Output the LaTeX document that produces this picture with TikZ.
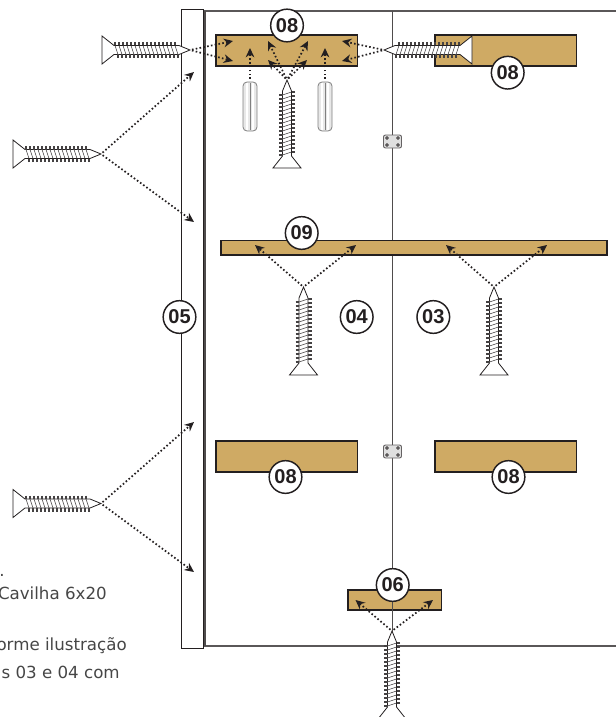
\documentclass[tikz,border=0pt]{standalone}
\usepackage{fontspec}
\setmainfont{Liberation Sans}
\newfontfamily\notefont{DejaVu Sans}
\usetikzlibrary{arrows.meta}
\definecolor{wood}{RGB}{207,170,100}
\definecolor{ink}{RGB}{35,31,32}
\definecolor{notegray}{RGB}{70,70,70}
\tikzset{
  woodbox/.style={draw=ink, line width=0.9pt, fill=wood},
  dotarrow/.style={ink, line width=1.3pt, dash pattern=on 1.2pt off 1.7pt, shorten <=1.5pt, -{Stealth[length=7pt,width=6.5pt]}},
  badge/.style={circle, draw=ink, line width=1.1pt, fill=white, minimum size=24.5pt, inner sep=0pt, font=\bfseries\fontsize{15}{15}\selectfont, text=ink},
  notetext/.style={anchor=east, inner sep=0pt, text=notegray, font=\notefont\fontsize{12.5}{14}\selectfont},
  pics/screwpic/.style={code={
    \draw[ink, line width=0.6pt, fill=white] (0,0) -- (-11,-4.5) -- (-76,-4.5) -- (-88,-14) -- (-88,14) -- (-76,4.5) -- (-11,4.5) -- cycle;
    \foreach \t in {0,...,15} {
      \draw[ink!85, line width=0.45pt] ({-75+4*\t},-4.5) -- ({-72+4*\t},4.5);
      \draw[ink!85, line width=1.05pt] ({-75+4*\t},-8) -- ({-75+4*\t},-4.5);
      \draw[ink!85, line width=1.05pt] ({-72+4*\t},8) -- ({-72+4*\t},4.5);
    }
  }},
  pics/dowelpic/.style={code={
    \draw[gray, line width=0.6pt, fill=gray!18, rounded corners=3pt] (-7,0) rectangle (7,49);
    \foreach \t in {-3,3}
      \draw[white, line width=0.9pt] (\t,1) -- (\t,48);
    \draw[gray, line width=0.5pt] (0,1) -- (0,48);
  }},
  pics/hingepic/.style={code={
    \draw[ink!70, line width=0.7pt, fill=gray!25, rounded corners=1.5pt] (-9,-6.5) rectangle (9,6.5);
    \foreach \a/\b in {-5.5/-3.5,5.5/-3.5,-5.5/3.5,5.5/3.5}
      \draw[ink, line width=0.5pt, fill=white] (\a,\b) circle (1.3);
  }}
}
\begin{document}
\begin{tikzpicture}[x=0.75pt,y=-0.75pt]
\useasboundingbox (0,0) rectangle (616,717);
% back panels
\draw[ink!75, line width=0.9pt] (204,11) -- (616,11);
\draw[ink!75, line width=0.8pt] (204,646) -- (616,646);
% boards
\draw[woodbox] (216,35) rectangle (357.5,66);
\draw[woodbox] (435,35) rectangle (576.5,66);
\draw[woodbox] (216,441) rectangle (357.5,472);
\draw[woodbox] (435,441) rectangle (576.5,472);
\draw[woodbox] (348,590) rectangle (441.5,610);
\draw[ink, line width=1.4pt] (348,590) -- (441.5,590);
% center line
\draw[ink!80, line width=0.9pt] (392.5,11) -- (392.5,646);
\draw[woodbox] (221,240.5) rectangle (607,255);
% side panel
\draw[ink, line width=0.7pt, fill=white] (181,9.5) rectangle (203,648);
\draw[ink!80, line width=1.5pt] (204.5,11) -- (204.5,646);
% hinges
\pic at (392.5,141.5) {hingepic};
\pic at (392.5,451.5) {hingepic};
% dowels
\pic at (250,82) {dowelpic};
\pic at (325,82) {dowelpic};
% screws
\pic at (190,50) {screwpic};
\pic at (101,154) {screwpic};
\pic at (101,503.5) {screwpic};
\pic[rotate=180, yscale=-1] at (384,50) {screwpic};
\pic[rotate=90] at (287,80) {screwpic};
\pic[rotate=90] at (303.5,287) {screwpic};
\pic[rotate=90] at (494,287) {screwpic};
\pic[rotate=90] at (392,631) {screwpic};
% screw tips
\coordinate (tipa) at (190,50);
\coordinate (tipb) at (101,154);
\coordinate (tipc) at (101,503.5);
\coordinate (tipd) at (384,50);
\coordinate (tipe) at (287,80);
\coordinate (tipf) at (303.5,287);
\coordinate (tipg) at (494,287);
\coordinate (tiph) at (392,631);
\coordinate (dowela) at (250,81);
\coordinate (dowelb) at (325,81);
% arrow ends
\coordinate (enda1) at (233,41);
\coordinate (enda2) at (233,61);
\coordinate (endb1) at (194,72);
\coordinate (endb2) at (194,222);
\coordinate (endc1) at (194,422);
\coordinate (endc2) at (194,572);
\coordinate (endd1) at (342,41);
\coordinate (endd2) at (342,61);
\coordinate (ende1) at (268,41);
\coordinate (ende2) at (308,41);
\coordinate (ende3) at (268,60);
\coordinate (ende4) at (307,60);
\coordinate (endf1) at (255,245);
\coordinate (endf2) at (356,245);
\coordinate (endg1) at (446,245);
\coordinate (endg2) at (547,245);
\coordinate (endh1) at (355.5,600);
\coordinate (endh2) at (433,600);
\coordinate (endi1) at (250,48);
\coordinate (endi2) at (325,48);
\foreach \s/\e in {tipa/enda1,tipa/enda2,tipb/endb1,tipb/endb2,tipc/endc1,tipc/endc2,tipd/endd1,tipd/endd2,tipe/ende1,tipe/ende2,tipe/ende3,tipe/ende4,tipf/endf1,tipf/endf2,tipg/endg1,tipg/endg2,tiph/endh1,tiph/endh2,dowela/endi1,dowelb/endi2}
  \draw[dotarrow] (\s) -- (\e);
% badges
\node[badge] (boardtl) at (287,25.5) {08};
\node[badge] (boardtr) at (507.7,72.7) {08};
\node[badge] (boardbl) at (285.5,477) {08};
\node[badge] (boardbr) at (508.5,477) {08};
\node[badge] (shelf) at (301.7,233) {09};
\node[badge] (sidea) at (356.7,317) {04};
\node[badge] (sideb) at (433.3,317) {03};
\node[badge] (sidepanel) at (179.5,317) {05};
\node[badge] (base) at (392.7,585) {06};
% notes
\node[notetext] (notea) at (5,570) {2.};
\node[notetext] (noteb) at (107,593) {Cavilha 6x20};
\node[notetext] (notec) at (127,646) {orme ilustração};
\node[notetext] (noted) at (120,672) {s 03 e 04 com};
\end{tikzpicture}
\end{document}
